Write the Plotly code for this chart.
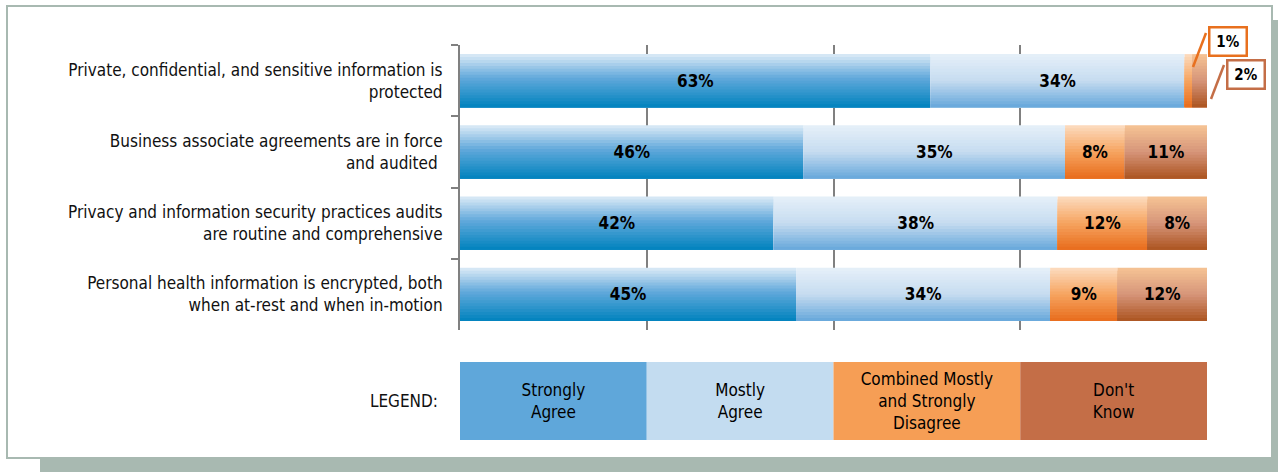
import plotly.graph_objects as go

# survey statements (top to bottom)
categories = [
    "Private, confidential, and sensitive information is<br>protected",
    "Business associate agreements are in force<br>and audited ",
    "Privacy and information security practices audits<br>are routine and comprehensive",
    "Personal health information is encrypted, both<br>when at-rest and when in-motion",
]
series_names = ["Strongly Agree", "Mostly Agree",
                "Combined Mostly and Strongly Disagree", "Don't Know"]
legend_labels = ["Strongly<br>Agree", "Mostly<br>Agree",
                 "Combined Mostly<br>and Strongly<br>Disagree", "Don't<br>Know"]

strongly_agree = [63, 46, 42, 45]
mostly_agree = [34, 35, 38, 34]
disagree = [1, 8, 12, 9]
dont_know = [2, 11, 8, 12]

series_values = [strongly_agree, mostly_agree, disagree, dont_know]

# styling
FONT = "DejaVu Sans Condensed, Liberation Sans Narrow, sans-serif"
GRID = "#808080"
FRAME = "#a8b9b1"
legend_colors = ["#5fa7da", "#c3dcf0", "#f69e55", "#c46e47"]
gradients = [  # top -> bottom colour stops
    [(0.0, (221, 235, 247)), (0.45, (98, 169, 219)), (1.0, (0, 130, 190))],
    [(0.0, (230, 240, 249)), (0.5, (198, 220, 240)), (1.0, (102, 167, 219))],
    [(0.0, (252, 220, 192)), (0.5, (246, 164, 96)), (1.0, (232, 108, 28))],
    [(0.0, (246, 196, 148)), (0.5, (214, 149, 122)), (1.0, (172, 84, 32))],
]
callout_colors = ["#e8701e", "#c46e47"]

W, H = 1278, 472
L, R, T, B = 460, 71, 45, 32
PW, PH = W - L - R, H - T - B
BAR_W = 0.744
N_STRIPS = 18


def px(x):
    return (x - L) / PW


def py(y):
    return (H - B - y) / PH


def blend(stops, f):
    for (f0, c0), (f1, c1) in zip(stops, stops[1:]):
        if f <= f1:
            t = (f - f0) / (f1 - f0)
            c = [round(a + (b - a) * t) for a, b in zip(c0, c1)]
            return "rgb(%d,%d,%d)" % tuple(c)
    return "rgb(%d,%d,%d)" % stops[-1][1]


# cumulative bases for stacking
bases = []
running = [0] * len(categories)
for vals in series_values:
    bases.append(list(running))
    running = [r + v for r, v in zip(running, vals)]

fig = go.Figure()

step = BAR_W / N_STRIPS
for s, vals in enumerate(series_values):
    for i in range(N_STRIPS):
        fig.add_trace(go.Bar(
            orientation="h", y=categories, x=vals, base=bases[s],
            width=BAR_W - i * step, offset=-BAR_W / 2 + i * step,
            marker=dict(color=blend(gradients[s], (i + 0.5) / N_STRIPS), line_width=0),
            showlegend=False, hoverinfo="skip",
        ))

# value labels
for s, vals in enumerate(series_values):
    fig.add_trace(go.Bar(
        orientation="h", y=categories, x=vals, base=bases[s], width=BAR_W,
        marker=dict(color="rgba(0,0,0,0)", line_width=0),
        text=[f"{v}%" if v >= 5 else "" for v in vals],
        textposition="inside", insidetextanchor="middle", textangle=0,
        constraintext="none",
        textfont=dict(family=FONT, size=17, color="black", weight="bold"),
        name=series_names[s], showlegend=False,
        hovertemplate="%{y}<br>" + series_names[s] + ": %{x}%<extra></extra>",
    ))

# legend key as its own strip
share = 100 / len(series_names)
for s, lab in enumerate(legend_labels):
    fig.add_trace(go.Bar(
        orientation="h", y=["LEGEND:"], x=[share], base=[s * share], width=1,
        marker=dict(color=legend_colors[s], line_width=0),
        text=[lab], textposition="inside", insidetextanchor="middle", textangle=0,
        constraintext="none",
        textfont=dict(family=FONT, size=17, color="black"),
        xaxis="x2", yaxis="y2", showlegend=False, hoverinfo="skip",
    ))

shapes = [
    dict(type="rect", xref="paper", yref="paper", x0=px(40), x1=px(1278),
         y0=py(472), y1=py(459), fillcolor=FRAME, line_width=0, layer="below"),
    dict(type="rect", xref="paper", yref="paper", x0=px(1273), x1=px(1278),
         y0=py(472), y1=py(20), fillcolor=FRAME, line_width=0, layer="below"),
    dict(type="rect", xref="paper", yref="paper", x0=px(7), x1=px(1272),
         y0=py(458), y1=py(6), line=dict(color=FRAME, width=2), layer="below"),
]

# callouts for the tiny first-row segments
annotations = []
small = [(disagree[0], (1228, 41.5), ((1193, 67), (1206, 33))),
         (dont_know[0], (1246, 74.5), ((1211, 99), (1224, 65)))]
for k, (v, (cx, cy), ((lx0, ly0), (lx1, ly1))) in enumerate(small):
    annotations.append(dict(
        text=f"<b>{v}%</b>", xref="paper", yref="paper", x=px(cx), y=py(cy),
        xanchor="center", yanchor="middle", showarrow=False,
        width=35, height=26, borderpad=0, bgcolor="white",
        bordercolor=callout_colors[k], borderwidth=2.5,
        font=dict(family=FONT, size=15, color="black"),
    ))
    shapes.append(dict(type="line", xref="paper", yref="paper",
                       x0=px(lx0), y0=py(ly0), x1=px(lx1), y1=py(ly1),
                       line=dict(color=callout_colors[k], width=2.5)))

fig.update_layout(
    width=W, height=H, barmode="overlay",
    margin=dict(l=L, r=R, t=T, b=B, pad=0),
    paper_bgcolor="white", plot_bgcolor="rgba(0,0,0,0)",
    font=dict(family=FONT, size=17, color="#111111"),
    xaxis=dict(domain=[0, 1], range=[0, 100], dtick=25, showgrid=True,
               gridcolor=GRID, gridwidth=2, showticklabels=False,
               zeroline=False, showline=False, fixedrange=True),
    yaxis=dict(domain=[py(330), 1], type="category", categoryarray=categories,
               range=[3.5, -0.5], tickson="boundaries", ticks="outside",
               ticklen=7, tickwidth=2, tickcolor=GRID, showline=True,
               linecolor=GRID, linewidth=2, showgrid=False,
               ticklabelstandoff=12, tickfont=dict(size=17), fixedrange=True),
    xaxis2=dict(domain=[0, 1], range=[0, 100], anchor="y2", showgrid=False,
                showticklabels=False, zeroline=False, showline=False,
                fixedrange=True),
    yaxis2=dict(domain=[0, py(362)], type="category", range=[-0.5, 0.5],
                anchor="x2", showgrid=False, showline=False, ticks="",
                ticklabelstandoff=21, tickfont=dict(size=17), fixedrange=True),
    shapes=shapes,
    annotations=annotations,
)

fig.write_html("out.html", config={"displayModeBar": False},
               post_script="document.body.style.margin='0';")
